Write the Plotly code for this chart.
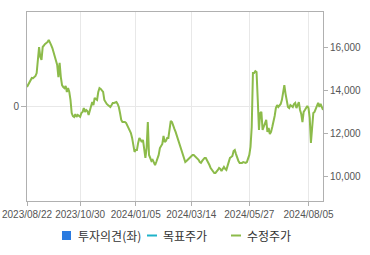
import pandas as pd
import plotly.graph_objects as go

holidays = ["2023-09-28", "2023-09-29", "2023-10-02", "2023-10-03", "2023-10-09",
            "2023-12-25", "2023-12-29", "2024-01-01", "2024-02-09", "2024-02-12",
            "2024-03-01", "2024-04-10", "2024-05-01", "2024-05-06", "2024-05-15",
            "2024-06-06", "2024-08-15"]

prices = [
    14140, 14230, 14370, 14470, 14560, 14550, 14600, 14650, 14790, 15540,
    16000, 15540, 15400, 16000, 16090, 16140, 16190, 16230, 16330, 16230,
    16090, 15950, 15770, 15630, 15400, 15160, 14600, 15260, 14600, 14230,
    14140, 14090, 14190, 13910, 14090, 13910, 13540, 12930, 12790, 12750,
    12880, 12750, 12840, 12790, 12750, 12930, 12980, 13160, 12980, 13070,
    13020, 12840, 13070, 13350, 13440, 13300, 13630, 13580, 13540, 13910,
    14090, 14050, 13950, 13910, 13540, 13400, 13350, 13300, 13260, 13210,
    13300, 13400, 13400, 13440, 13440, 13350, 13210, 12930, 12610, 12510,
    12510, 12510, 12470, 12370, 12230, 12140, 12000, 11770, 11440, 11120,
    11210, 11210, 11540, 11770, 11680, 11580, 11680, 11210, 10840, 11300,
    12510, 10980, 10840, 10700, 10750, 10650, 10510, 10650, 10840, 10980,
    11300, 11400, 11490, 11860, 11580, 11630, 11770, 11770, 12140, 12560,
    12510, 12280, 12190, 12050, 11860, 11680, 11490, 11300, 11120, 10930,
    10750, 10650, 10700, 10750, 10790, 10880, 10930, 10980, 10980, 10930,
    10880, 10840, 10750, 10650, 10610, 10700, 10790, 10840, 10840, 10750,
    10650, 10510, 10370, 10280, 10190, 10140, 10140, 10190, 10280, 10370,
    10330, 10230, 10330, 10420, 10330, 10280, 10470, 10650, 10840, 10880,
    10930, 11160, 11210, 11020, 10840, 10700, 10610, 10610, 10610, 10650,
    10610, 10610, 10650, 10840, 10980, 11350, 12280, 14790, 14790, 14880,
    14840, 13540, 12140, 12930, 12980, 12140, 12280, 12420, 12610, 12050,
    12230, 11950, 12050, 12280, 12510, 12790, 13160, 13300, 13210, 13260,
    13350, 13540, 13910, 14230, 13820, 13400, 13210, 13160, 13300, 13260,
    13210, 13350, 13400, 13160, 13350, 13440, 13070, 12880, 12510, 12980,
    13070, 13160, 13260, 13160, 12700, 11540, 12280, 12930, 12980, 13160,
    13260, 13400, 13210, 13350, 13160, 13070,
]

tick_dates = ["2023/08/22", "2023/10/30", "2024/01/05", "2024/03/14", "2024/05/27", "2024/08/05"]
price_ticks = [10000, 12000, 14000, 16000]

series_names = ["투자의견(좌)", "목표주가", "수정주가"]
series_colors = ["#2b7be0", "#1fb3c9", "#8cbb4a"]
series_kinds = ["box", "line", "line"]

all_days = pd.bdate_range("2023-08-22", "2024-09-30")
all_days = [d for d in all_days if d.strftime("%Y-%m-%d") not in holidays]
dates = [d.strftime("%Y/%m/%d") for d in all_days][:len(prices)]

FONT = "Liberation Sans, Arial, sans-serif"
KFONT = "Noto Sans CJK KR, sans-serif"

fig = go.Figure()
fig.add_trace(go.Bar(x=[dates[0]], y=[None], name=series_names[0],
                     marker_color=series_colors[0], yaxis="y"))
fig.add_trace(go.Scatter(x=[dates[0]], y=[None], name=series_names[1], mode="lines",
                         line=dict(color=series_colors[1], width=2), yaxis="y2"))
fig.add_trace(go.Scatter(x=dates, y=prices, name=series_names[2], mode="lines",
                         line=dict(color=series_colors[2], width=2), yaxis="y2"))

# compact legend row (symbol right before label, as in the reference)
W, H, L, B = 370, 255, 27, 54
pw, ph = W - L - 47, H - 12 - B
def px(x):
    return (x - L) / pw
def py(y):
    return (H - B - y) / ph

legend_starts = [62, 147, 231]
legend_y = 235.5
for start, name, color, kind in zip(legend_starts, series_names, series_colors, series_kinds):
    if kind == "box":
        fig.add_shape(type="rect", xref="paper", yref="paper",
                      x0=px(start), x1=px(start + 9), y0=py(legend_y + 4.5), y1=py(legend_y - 4.5),
                      fillcolor=color, line=dict(width=0))
        tx = start + 14
    else:
        fig.add_shape(type="line", xref="paper", yref="paper",
                      x0=px(start), x1=px(start + 10), y0=py(legend_y), y1=py(legend_y),
                      line=dict(color=color, width=2))
        tx = start + 14
    fig.add_annotation(x=px(tx), y=py(legend_y), xref="paper", yref="paper",
                       text=name, showarrow=False, xanchor="left", yanchor="middle",
                       font=dict(family=KFONT, size=12, color="#333"))

fig.update_layout(
    width=W, height=H,
    margin=dict(l=L, r=47, t=12, b=B, autoexpand=False),
    paper_bgcolor="white", plot_bgcolor="white",
    showlegend=False,
    xaxis=dict(type="category", range=[0, len(prices) - 1], automargin=False,
               tickmode="array", tickvals=tick_dates, ticktext=tick_dates,
               ticks="outside", ticklen=4, tickcolor="#b0b0b0",
               showgrid=True, gridcolor="#e8e8e8", gridwidth=1,
               showline=True, linecolor="#b0b0b0", linewidth=1, mirror=True,
               tickfont=dict(family=FONT, size=10, color="#555"), tickangle=0),
    yaxis=dict(range=[-1, 1], tickmode="array", tickvals=[0], ticktext=["0"],
               automargin=False,
               ticks="outside", ticklen=5, tickcolor="#b0b0b0",
               showgrid=True, gridcolor="#e8e8e8", zeroline=False,
               showline=True, linecolor="#b0b0b0", linewidth=1, mirror=True,
               tickfont=dict(family=FONT, size=10, color="#555"), fixedrange=True),
    yaxis2=dict(overlaying="y", side="right", range=[8837, 17628], automargin=False,
                tickmode="array", tickvals=price_ticks,
                ticktext=[f"{v:,}" for v in price_ticks],
                ticks="outside", ticklen=4, tickcolor="#b0b0b0",
                showgrid=False, zeroline=False, showline=True,
                linecolor="#b0b0b0", linewidth=1,
                tickfont=dict(family=FONT, size=10, color="#555")),
)

fig.write_html("out.html")
